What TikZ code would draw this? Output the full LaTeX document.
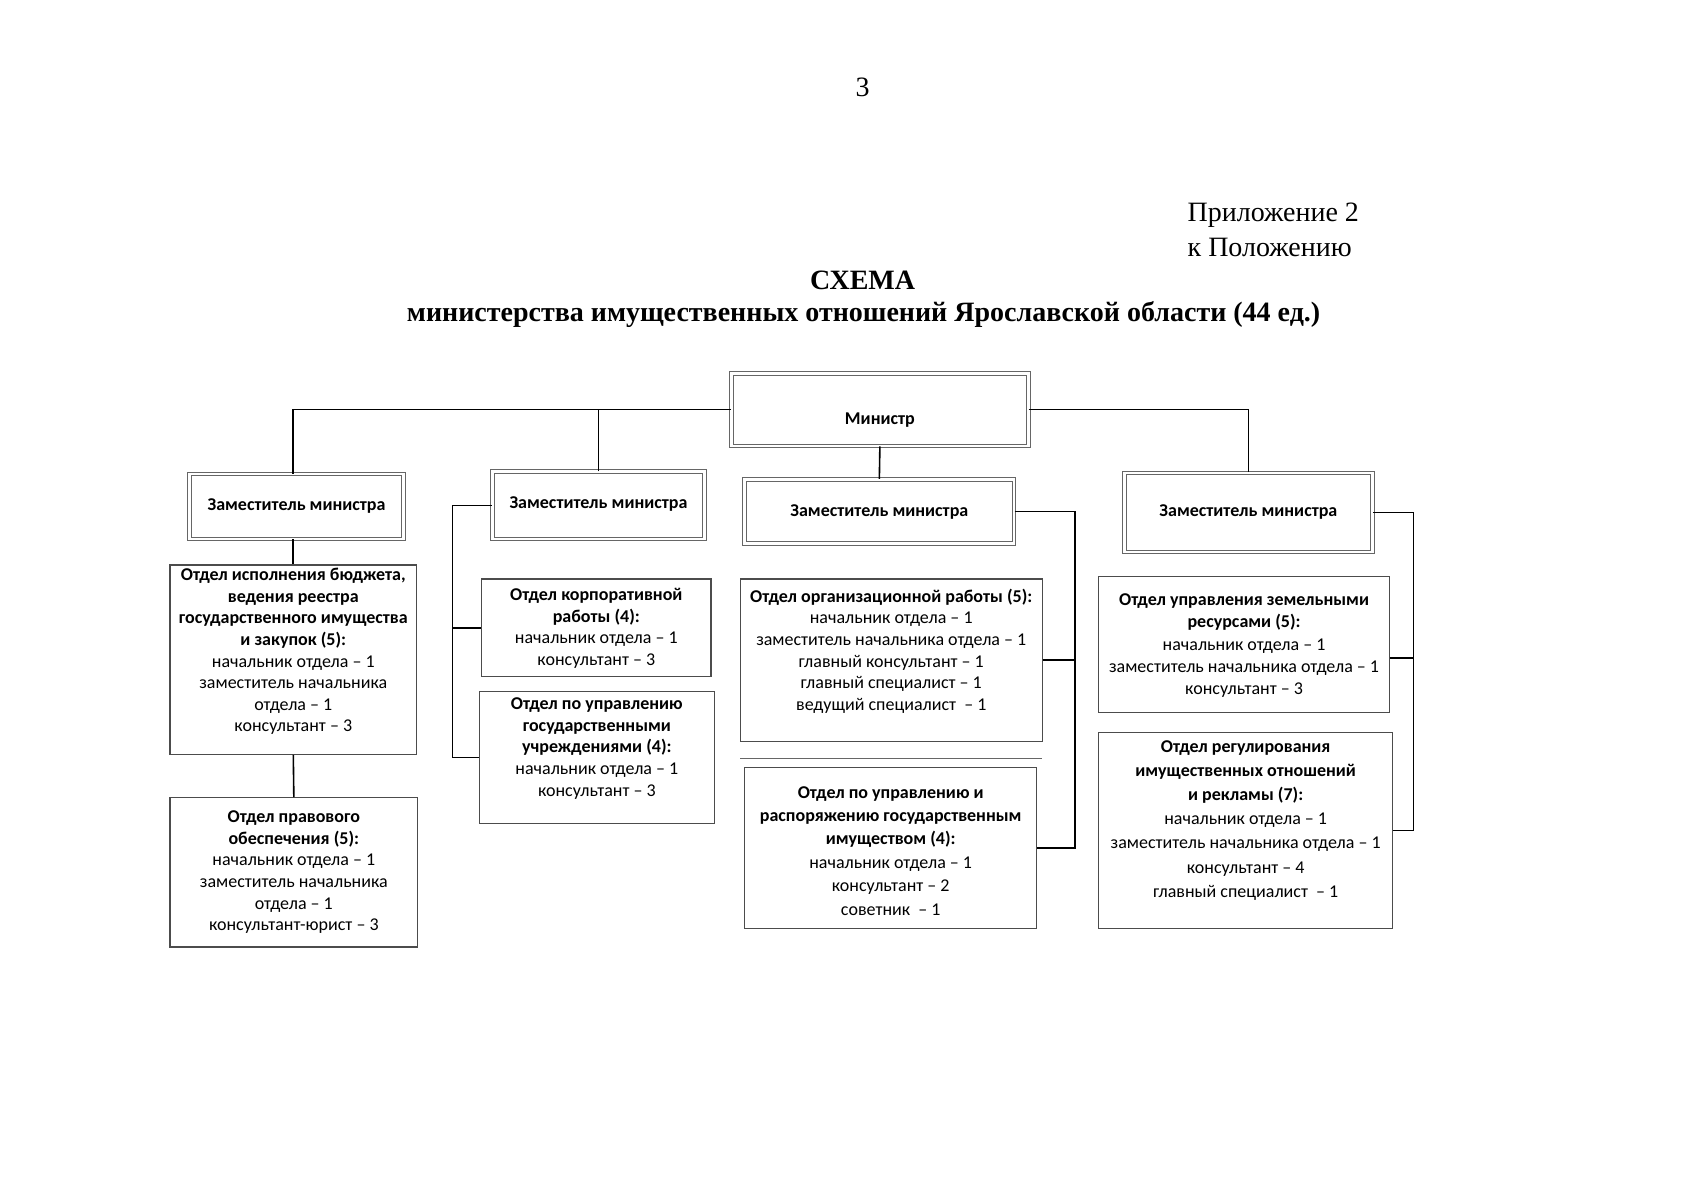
\documentclass[tikz,border=0pt]{standalone}
\usepackage{fontspec}
\setmainfont{Liberation Serif}
\newfontfamily\carl{Carlito}
\usetikzlibrary{calc}
\newcommand\dpx{0.5411pt}
\tikzset{
  x=0.5411pt, y=-0.5411pt,
  bx/.style args={#1/#2}{rectangle, inner sep=0pt, minimum width=#1*\dpx, minimum height=#2*\dpx},
  topbox/.style={draw=black!60, double=white, double distance=1.4pt, line width=0.5pt},
  deptbox/.style={draw=black!70, line width=0.6pt},
  txt/.style={font=\carl\fontsize{9}{10.8}\selectfont, align=center, inner sep=0pt},
  conn/.style={draw=black, line width=0.8pt},
  ttl/.style={font=\fontsize{14}{16}\selectfont, inner sep=0pt},
}
\begin{document}
\begin{tikzpicture}
\useasboundingbox (0,0) rectangle (1568,1109);
% page texts
\node[ttl] (pg) at (797,81) {3};
\node[ttl, anchor=west] (app1) at (1097,199) {Приложение 2};
\node[ttl, anchor=west] (app2) at (1097,229) {к Положению};
\node[ttl, font=\bfseries\fontsize{14}{16}\selectfont] (t1) at (797,259) {СХЕМА};
\node[ttl, font=\bfseries\fontsize{14}{16}\selectfont] (t2) at (798,291) {министерства имущественных отношений Ярославской области (44 ед.)};

% top boxes
\node[bx=274/67, topbox] (min) at (813,378.5) {};
\node[txt, font=\carl\bfseries\fontsize{9}{10.8}\selectfont] (mint) at (813,388) {Министр};
\node[bx=198/60, topbox] (z1) at (274,468) {};
\node[txt, font=\carl\bfseries\fontsize{9}{10.8}\selectfont] (z1t) at (274,468) {Заместитель министра};
\node[bx=196/62, topbox] (z2) at (553,467) {};
\node[txt, font=\carl\bfseries\fontsize{9}{10.8}\selectfont] (z2t) at (553,466) {Заместитель министра};
\node[bx=249/59, topbox] (z3) at (812.5,472.5) {};
\node[txt, font=\carl\bfseries\fontsize{9}{10.8}\selectfont] (z3t) at (812.5,473) {Заместитель министра};
\node[bx=229/73, topbox] (z4) at (1153.5,473.5) {};
\node[txt, font=\carl\bfseries\fontsize{9}{10.8}\selectfont] (z4t) at (1153.5,473) {Заместитель министра};

% departments
\node[bx=228/175, deptbox] (d1) at (271,609.5) {};
\node[txt] (d1t) at (271,602) {\textbf{Отдел исполнения бюджета,}\\ \textbf{ведения реестра}\\ \textbf{государственного имущества}\\ \textbf{и закупок (5):}\\ начальник отдела – 1\\ заместитель начальника\\ отдела – 1\\ консультант – 3};

\node[bx=229/138, deptbox] (d2) at (271.5,806) {};
\node[txt] (d2t) at (271.5,806) {\textbf{Отдел правового}\\ \textbf{обеспечения (5):}\\ начальник отдела – 1\\ заместитель начальника\\ отдела – 1\\ консультант-юрист – 3};

\node[bx=212/90, deptbox] (d3) at (551,580) {};
\node[txt] (d3t) at (551,580.5) {\textbf{Отдел корпоративной}\\ \textbf{работы (4):}\\ начальник отдела – 1\\ консультант – 3};

\node[bx=217/122, deptbox] (d4) at (551.5,700) {};
\node[txt] (d4t) at (551.5,691.5) {\textbf{Отдел по управлению}\\ \textbf{государственными}\\ \textbf{учреждениями (4):}\\ начальник отдела – 1\\ консультант – 3};

\node[bx=279/150, deptbox] (d5) at (823.5,610) {};
\node[txt] (d5t) at (823.5,601.5) {\textbf{Отдел организационной работы (5):}\\ начальник отдела – 1\\ заместитель начальника отдела – 1\\ главный консультант – 1\\ главный специалист – 1\\ ведущий специалист \ – 1};

\node[bx=270/149, deptbox] (d6) at (823,783.5) {};
\node[txt, font=\carl\fontsize{9}{11.7}\selectfont] (d6t) at (823,786) {\textbf{Отдел по управлению и}\\ \textbf{распоряжению государственным}\\ \textbf{имуществом (4):}\\ начальник отдела – 1\\ консультант – 2\\ советник \ – 1};

\node[bx=269/125, deptbox] (d7) at (1149.5,595.5) {};
\node[txt, font=\carl\fontsize{9}{11.2}\selectfont] (d7t) at (1149.5,596.5) {\textbf{Отдел управления земельными}\\ \textbf{ресурсами (5):}\\ начальник отдела – 1\\ заместитель начальника отдела – 1\\ консультант – 3};

\node[bx=272/181, deptbox] (d8) at (1151,767.5) {};
\node[txt, font=\carl\fontsize{9}{12.05}\selectfont] (d8t) at (1151,758) {\textbf{Отдел регулирования}\\ \textbf{имущественных отношений}\\ \textbf{и рекламы (7):}\\ начальник отдела – 1\\ заместитель начальника отдела – 1\\ консультант – 4\\ главный специалист \ – 1};

% stray separator line
\draw[black!60, line width=0.6pt] (684,701) -- (963,701);

% connectors
\coordinate (bx2) at (418,0);
\coordinate (bx3) at (993,0);
\coordinate (bx4) at (1306,0);
\draw[conn] (min.west) -| (z1.north -| d1.north);
\draw[conn] (z2.north) |- (min.west);
\draw[conn] (min.east) -| (z4.north);
\draw[conn] (min.south) -- (z3.north);
\draw[conn] (z1.south -| d1.north) -- (d1.north);
\draw[conn] (d1.south) -- (d2.north);
\draw[conn] (z2.west) -- (z2.west -| bx2) -- (bx2 |- d4.west) -- (d4.west);
\draw[conn] (bx2 |- d3.west) -- (d3.west);
\draw[conn] (z3.east) -- (z3.east -| bx3) -- (bx3 |- d6.east) -- (d6.east);
\draw[conn] (bx3 |- d5.east) -- (d5.east);
\draw[conn] (z4.east) -- (z4.east -| bx4) -- (bx4 |- d8.east) -- (d8.east);
\draw[conn] ([yshift=-12.5*\dpx]d7.east) -- ([yshift=-12.5*\dpx]d7.east -| bx4);
\end{tikzpicture}
\end{document}
